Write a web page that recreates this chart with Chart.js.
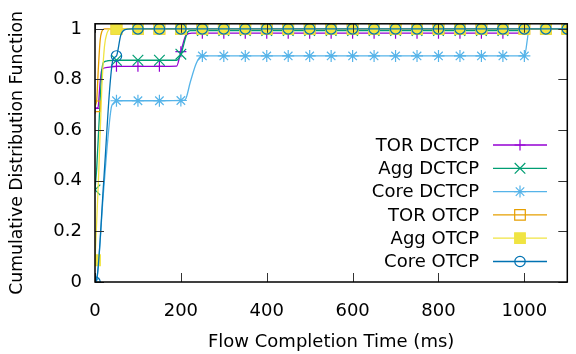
<!DOCTYPE html>
<html>
<head>
<meta charset="utf-8">
<script src="https://cdn.jsdelivr.net/npm/chart.js@4.4.1/dist/chart.umd.min.js"></script>
<style>
  html, body { margin: 0; padding: 0; background: #fff; }
  #wrap { width: 576px; height: 354px; }
</style>
</head>
<body>
<div id="wrap"><canvas id="cdf"></canvas></div>
<script>
// times (ms) where a marker is drawn
const markerTimes = [0, 50, 100, 150, 200, 250, 300, 350, 400, 450, 500, 550,
  600, 650, 700, 750, 800, 850, 900, 950, 1000, 1050, 1100];

// CDF value at each marker time
const torDctcp = [0.686, 0.852, 0.852, 0.852, 0.91, 0.983, 0.983, 0.983, 0.983, 0.983, 0.983, 0.983,
  0.983, 0.983, 0.983, 0.983, 0.983, 0.983, 0.983, 0.983, 0.997, 1, 1];
const aggDctcp = [0.364, 0.876, 0.876, 0.876, 0.9, 0.993, 0.993, 0.993, 0.993, 0.993, 0.993, 0.993,
  0.993, 0.993, 0.993, 0.993, 0.993, 0.993, 0.993, 0.993, 1, 1, 1];
const coreDctcp = [0, 0.716, 0.716, 0.716, 0.717, 0.893, 0.893, 0.893, 0.893, 0.893, 0.893, 0.893,
  0.893, 0.893, 0.893, 0.893, 0.893, 0.893, 0.893, 0.893, 0.893, 1, 1];
const torOtcp = [0.694, 1, 1, 1, 1, 1, 1, 1, 1, 1, 1, 1, 1, 1, 1, 1, 1, 1, 1, 1, 1, 1, 1];
const aggOtcp = [0.086, 1, 1, 1, 1, 1, 1, 1, 1, 1, 1, 1, 1, 1, 1, 1, 1, 1, 1, 1, 1, 1, 1];
const coreOtcp = [0, 0.893, 1, 1, 1, 1, 1, 1, 1, 1, 1, 1, 1, 1, 1, 1, 1, 1, 1, 1, 1, 1, 1];

// extra [time, value] points between markers
const torDctcpExtra = [[7, 0.69], [12, 0.79], [16, 0.84], [30, 0.848], [190, 0.853], [212, 0.975], [225, 0.983], [985, 0.983], [1012, 1]];
const aggDctcpExtra = [[4, 0.45], [10, 0.65], [16, 0.835], [20, 0.868], [30, 0.874], [190, 0.876], [215, 0.985], [222, 0.993], [988, 0.993]];
const coreDctcpExtra = [[5, 0.02], [20, 0.36], [38, 0.69], [43, 0.706], [210, 0.72], [222, 0.79], [235, 0.86], [244, 0.888], [1012, 1]];
const torOtcpExtra = [[4, 0.72], [8, 0.85], [12, 0.955], [16, 0.99], [22, 1]];
const aggOtcpExtra = [[8, 0.4], [16, 0.77], [22, 0.93], [28, 0.983], [36, 1]];
const coreOtcpExtra = [[4, 0.01], [20, 0.39], [35, 0.78], [42, 0.88], [60, 0.975], [70, 0.997], [85, 1]];

const seriesNames = ['TOR DCTCP', 'Agg DCTCP', 'Core DCTCP', 'TOR OTCP', 'Agg OTCP', 'Core OTCP'];
const xTicks = [0, 200, 400, 600, 800, 1000];
const yTicks = [0, 0.2, 0.4, 0.6, 0.8, 1];
const xTitle = 'Flow Completion Time (ms)';
const yTitle = 'Cumulative Distribution Function';

const FONT = '"DejaVu Sans", sans-serif';

function buildPoints(values, extra) {
    const pts = markerTimes.map((t, i) => ({ x: t, y: values[i], mark: true }));
    extra.forEach(p => pts.push({ x: p[0], y: p[1], mark: false }));
    return pts.sort((a, b) => a.x - b.x);
}

const styles = [
    { color: '#9400d3', point: 'cross', radius: 5.5, fill: 'transparent' },
    { color: '#009e73', point: 'crossRot', radius: 7.5, fill: 'transparent' },
    { color: '#56b4e9', point: 'star', radius: 6, fill: 'transparent' },
    { color: '#e69f00', point: 'rect', radius: 7.5, fill: 'transparent' },
    { color: '#f0e442', point: 'rect', radius: 7.5, fill: '#f0e442' },
    { color: '#0072b2', point: 'circle', radius: 5.2, fill: 'transparent' }
];

const seriesValues = [torDctcp, aggDctcp, coreDctcp, torOtcp, aggOtcp, coreOtcp];
const seriesExtra = [torDctcpExtra, aggDctcpExtra, coreDctcpExtra, torOtcpExtra, aggOtcpExtra, coreOtcpExtra];

const datasets = seriesNames.map((name, i) => ({
    label: name,
    data: buildPoints(seriesValues[i], seriesExtra[i]),
    borderColor: styles[i].color,
    backgroundColor: styles[i].fill,
    borderWidth: 1.3,
    pointStyle: styles[i].point,
    pointBorderColor: styles[i].color,
    pointBackgroundColor: styles[i].fill,
    pointBorderWidth: 1.2,
    pointRadius: ctx => (ctx.raw && ctx.raw.mark ? styles[i].radius : 0),
    pointHoverRadius: 0,
    cubicInterpolationMode: 'monotone',
    fill: false,
    order: seriesNames.length - i
}));

// frame with inward ticks, like gnuplot's border
const framePlugin = {
    id: 'frame',
    afterDatasetsDraw(chart) {
        const { ctx, chartArea: a, scales } = chart;
        ctx.save();
        ctx.strokeStyle = '#333';
        ctx.lineWidth = 1;
        ctx.beginPath();
        xTicks.forEach(v => {
            const x = Math.round(scales.x.getPixelForValue(v)) + 0.5;
            ctx.moveTo(x, a.bottom); ctx.lineTo(x, a.bottom - 9);
            ctx.moveTo(x, a.top); ctx.lineTo(x, a.top + 9);
        });
        yTicks.forEach(v => {
            const y = Math.round(scales.y.getPixelForValue(v)) + 0.5;
            ctx.moveTo(a.left, y); ctx.lineTo(a.left + 9, y);
            ctx.moveTo(a.right, y); ctx.lineTo(a.right - 9, y);
        });
        ctx.stroke();
        ctx.strokeStyle = '#000';
        ctx.lineWidth = 1.5;
        ctx.strokeRect(a.left, a.top, a.right - a.left, a.bottom - a.top);
        ctx.restore();
    }
};

// axis titles and the key on the right (text left of the sample)
const keyPlugin = {
    id: 'key',
    afterDraw(chart) {
        const { ctx, chartArea: a } = chart;
        ctx.save();
        ctx.fillStyle = '#000';
        ctx.textAlign = 'center';
        ctx.textBaseline = 'middle';
        ctx.font = '18px ' + FONT;
        ctx.fillText(xTitle, (a.left + a.right) / 2, 342);
        ctx.save();
        ctx.translate(18, (a.top + a.bottom) / 2);
        ctx.rotate(-Math.PI / 2);
        ctx.font = '17.3px ' + FONT;
        ctx.fillText(yTitle, 0, 0);
        ctx.restore();

        ctx.font = '18px ' + FONT;
        ctx.textAlign = 'right';
        chart.data.datasets.forEach((ds, i) => {
            const y = 145 + i * 23.3;
            ctx.fillStyle = '#000';
            ctx.fillText(ds.label, 479, y + 1);
            ctx.strokeStyle = ds.borderColor;
            ctx.lineWidth = ds.borderWidth;
            ctx.beginPath();
            ctx.moveTo(493, y); ctx.lineTo(547, y);
            ctx.stroke();
            ctx.fillStyle = styles[i].fill;
            ctx.lineWidth = ds.pointBorderWidth;
            Chart.helpers.drawPoint(ctx, {
                pointStyle: styles[i].point,
                radius: styles[i].radius,
                rotation: 0,
                borderWidth: ds.pointBorderWidth
            }, 520, y);
        });
        ctx.restore();
    }
};

new Chart(document.getElementById('cdf'), {
    type: 'line',
    data: { datasets },
    options: {
        responsive: true,
        maintainAspectRatio: false,
        animation: false,
        events: [],
        layout: { padding: { top: 19, right: 7, left: 0, bottom: 0 } },
        plugins: {
            legend: { display: false },
            tooltip: { enabled: false }
        },
        scales: {
            x: {
                type: 'linear',
                min: 0,
                max: 1100,
                afterBuildTicks: s => { s.ticks = xTicks.map(v => ({ value: v })); },
                afterFit: s => { s.height = 72; },
                grid: { display: false, drawTicks: false },
                border: { display: false },
                ticks: { color: '#000', padding: 19, font: { family: FONT, size: 18 }, maxRotation: 0, callback: v => String(v) }
            },
            y: {
                type: 'linear',
                min: 0,
                max: 1.02,
                afterBuildTicks: s => { s.ticks = yTicks.map(v => ({ value: v })); },
                afterFit: s => { s.width = 95; },
                grid: { display: false, drawTicks: false },
                border: { display: false },
                ticks: { color: '#000', padding: 13, font: { family: FONT, size: 18 }, callback: v => String(v) }
            }
        }
    },
    plugins: [framePlugin, keyPlugin]
});
</script>
</body>
</html>
